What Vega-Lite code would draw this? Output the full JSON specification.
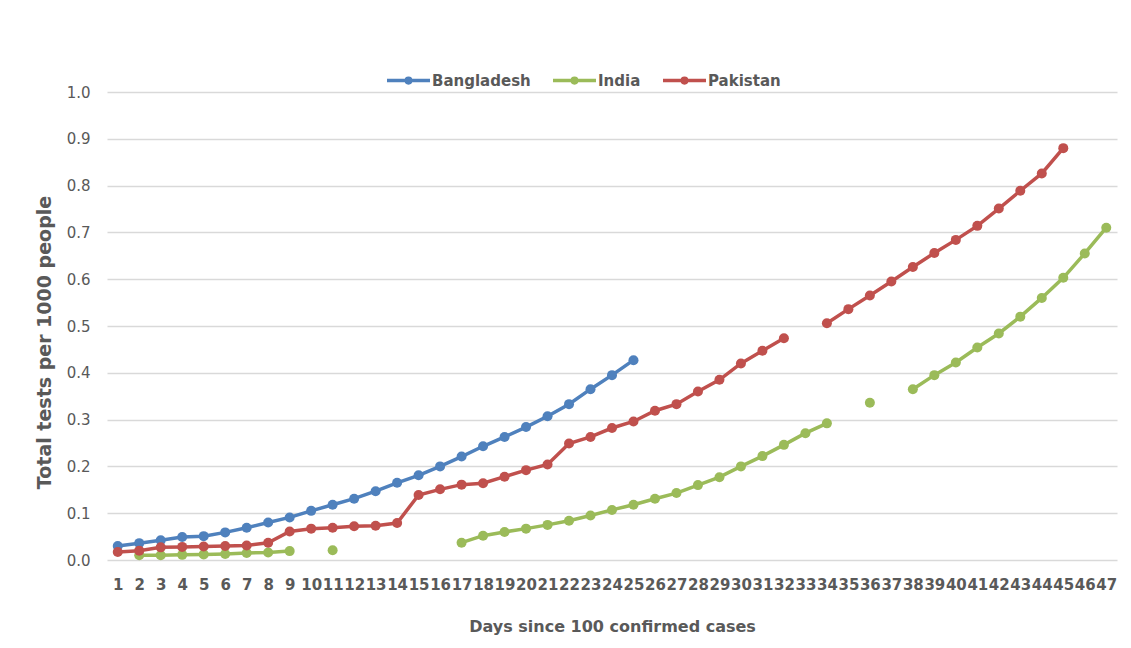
{
  "$schema": "https://vega.github.io/schema/vega-lite/v6.json",
  "width": 1010,
  "height": 468,
  "autosize": {"type": "none"},
  "padding": {"left": 107, "top": 92, "right": 14, "bottom": 88},
  "background": "white",
  "config": {
    "view": {"stroke": null},
    "font": "DejaVu Sans"
  },
  "data": {
    "values": [
      {"day": 1, "country": "Bangladesh", "seg": "B1", "v": 0.030},
      {"day": 2, "country": "Bangladesh", "seg": "B1", "v": 0.036},
      {"day": 3, "country": "Bangladesh", "seg": "B1", "v": 0.042},
      {"day": 4, "country": "Bangladesh", "seg": "B1", "v": 0.049},
      {"day": 5, "country": "Bangladesh", "seg": "B1", "v": 0.051},
      {"day": 6, "country": "Bangladesh", "seg": "B1", "v": 0.059},
      {"day": 7, "country": "Bangladesh", "seg": "B1", "v": 0.069},
      {"day": 8, "country": "Bangladesh", "seg": "B1", "v": 0.080},
      {"day": 9, "country": "Bangladesh", "seg": "B1", "v": 0.091},
      {"day": 10, "country": "Bangladesh", "seg": "B1", "v": 0.105},
      {"day": 11, "country": "Bangladesh", "seg": "B1", "v": 0.118},
      {"day": 12, "country": "Bangladesh", "seg": "B1", "v": 0.131},
      {"day": 13, "country": "Bangladesh", "seg": "B1", "v": 0.147},
      {"day": 14, "country": "Bangladesh", "seg": "B1", "v": 0.165},
      {"day": 15, "country": "Bangladesh", "seg": "B1", "v": 0.181},
      {"day": 16, "country": "Bangladesh", "seg": "B1", "v": 0.200},
      {"day": 17, "country": "Bangladesh", "seg": "B1", "v": 0.221},
      {"day": 18, "country": "Bangladesh", "seg": "B1", "v": 0.243},
      {"day": 19, "country": "Bangladesh", "seg": "B1", "v": 0.263},
      {"day": 20, "country": "Bangladesh", "seg": "B1", "v": 0.284},
      {"day": 21, "country": "Bangladesh", "seg": "B1", "v": 0.307},
      {"day": 22, "country": "Bangladesh", "seg": "B1", "v": 0.333},
      {"day": 23, "country": "Bangladesh", "seg": "B1", "v": 0.365},
      {"day": 24, "country": "Bangladesh", "seg": "B1", "v": 0.395},
      {"day": 25, "country": "Bangladesh", "seg": "B1", "v": 0.427},

      {"day": 2, "country": "India", "seg": "I1", "v": 0.010},
      {"day": 3, "country": "India", "seg": "I1", "v": 0.010},
      {"day": 4, "country": "India", "seg": "I1", "v": 0.011},
      {"day": 5, "country": "India", "seg": "I1", "v": 0.012},
      {"day": 6, "country": "India", "seg": "I1", "v": 0.013},
      {"day": 7, "country": "India", "seg": "I1", "v": 0.015},
      {"day": 8, "country": "India", "seg": "I1", "v": 0.016},
      {"day": 9, "country": "India", "seg": "I1", "v": 0.019},
      {"day": 11, "country": "India", "seg": "I2", "v": 0.021},
      {"day": 17, "country": "India", "seg": "I3", "v": 0.037},
      {"day": 18, "country": "India", "seg": "I3", "v": 0.052},
      {"day": 19, "country": "India", "seg": "I3", "v": 0.060},
      {"day": 20, "country": "India", "seg": "I3", "v": 0.067},
      {"day": 21, "country": "India", "seg": "I3", "v": 0.075},
      {"day": 22, "country": "India", "seg": "I3", "v": 0.084},
      {"day": 23, "country": "India", "seg": "I3", "v": 0.095},
      {"day": 24, "country": "India", "seg": "I3", "v": 0.107},
      {"day": 25, "country": "India", "seg": "I3", "v": 0.118},
      {"day": 26, "country": "India", "seg": "I3", "v": 0.131},
      {"day": 27, "country": "India", "seg": "I3", "v": 0.143},
      {"day": 28, "country": "India", "seg": "I3", "v": 0.160},
      {"day": 29, "country": "India", "seg": "I3", "v": 0.177},
      {"day": 30, "country": "India", "seg": "I3", "v": 0.200},
      {"day": 31, "country": "India", "seg": "I3", "v": 0.222},
      {"day": 32, "country": "India", "seg": "I3", "v": 0.246},
      {"day": 33, "country": "India", "seg": "I3", "v": 0.271},
      {"day": 34, "country": "India", "seg": "I3", "v": 0.292},
      {"day": 36, "country": "India", "seg": "I4", "v": 0.336},
      {"day": 38, "country": "India", "seg": "I5", "v": 0.365},
      {"day": 39, "country": "India", "seg": "I5", "v": 0.395},
      {"day": 40, "country": "India", "seg": "I5", "v": 0.422},
      {"day": 41, "country": "India", "seg": "I5", "v": 0.454},
      {"day": 42, "country": "India", "seg": "I5", "v": 0.484},
      {"day": 43, "country": "India", "seg": "I5", "v": 0.520},
      {"day": 44, "country": "India", "seg": "I5", "v": 0.560},
      {"day": 45, "country": "India", "seg": "I5", "v": 0.603},
      {"day": 46, "country": "India", "seg": "I5", "v": 0.655},
      {"day": 47, "country": "India", "seg": "I5", "v": 0.710},

      {"day": 1, "country": "Pakistan", "seg": "P1", "v": 0.017},
      {"day": 2, "country": "Pakistan", "seg": "P1", "v": 0.020},
      {"day": 3, "country": "Pakistan", "seg": "P1", "v": 0.027},
      {"day": 4, "country": "Pakistan", "seg": "P1", "v": 0.028},
      {"day": 5, "country": "Pakistan", "seg": "P1", "v": 0.029},
      {"day": 6, "country": "Pakistan", "seg": "P1", "v": 0.030},
      {"day": 7, "country": "Pakistan", "seg": "P1", "v": 0.031},
      {"day": 8, "country": "Pakistan", "seg": "P1", "v": 0.037},
      {"day": 9, "country": "Pakistan", "seg": "P1", "v": 0.061},
      {"day": 10, "country": "Pakistan", "seg": "P1", "v": 0.067},
      {"day": 11, "country": "Pakistan", "seg": "P1", "v": 0.069},
      {"day": 12, "country": "Pakistan", "seg": "P1", "v": 0.072},
      {"day": 13, "country": "Pakistan", "seg": "P1", "v": 0.073},
      {"day": 14, "country": "Pakistan", "seg": "P1", "v": 0.079},
      {"day": 15, "country": "Pakistan", "seg": "P1", "v": 0.139},
      {"day": 16, "country": "Pakistan", "seg": "P1", "v": 0.151},
      {"day": 17, "country": "Pakistan", "seg": "P1", "v": 0.161},
      {"day": 18, "country": "Pakistan", "seg": "P1", "v": 0.164},
      {"day": 19, "country": "Pakistan", "seg": "P1", "v": 0.178},
      {"day": 20, "country": "Pakistan", "seg": "P1", "v": 0.192},
      {"day": 21, "country": "Pakistan", "seg": "P1", "v": 0.204},
      {"day": 22, "country": "Pakistan", "seg": "P1", "v": 0.249},
      {"day": 23, "country": "Pakistan", "seg": "P1", "v": 0.263},
      {"day": 24, "country": "Pakistan", "seg": "P1", "v": 0.282},
      {"day": 25, "country": "Pakistan", "seg": "P1", "v": 0.296},
      {"day": 26, "country": "Pakistan", "seg": "P1", "v": 0.319},
      {"day": 27, "country": "Pakistan", "seg": "P1", "v": 0.333},
      {"day": 28, "country": "Pakistan", "seg": "P1", "v": 0.360},
      {"day": 29, "country": "Pakistan", "seg": "P1", "v": 0.385},
      {"day": 30, "country": "Pakistan", "seg": "P1", "v": 0.420},
      {"day": 31, "country": "Pakistan", "seg": "P1", "v": 0.447},
      {"day": 32, "country": "Pakistan", "seg": "P1", "v": 0.474},
      {"day": 34, "country": "Pakistan", "seg": "P2", "v": 0.506},
      {"day": 35, "country": "Pakistan", "seg": "P2", "v": 0.536},
      {"day": 36, "country": "Pakistan", "seg": "P2", "v": 0.565},
      {"day": 37, "country": "Pakistan", "seg": "P2", "v": 0.595},
      {"day": 38, "country": "Pakistan", "seg": "P2", "v": 0.626},
      {"day": 39, "country": "Pakistan", "seg": "P2", "v": 0.656},
      {"day": 40, "country": "Pakistan", "seg": "P2", "v": 0.684},
      {"day": 41, "country": "Pakistan", "seg": "P2", "v": 0.714},
      {"day": 42, "country": "Pakistan", "seg": "P2", "v": 0.751},
      {"day": 43, "country": "Pakistan", "seg": "P2", "v": 0.789},
      {"day": 44, "country": "Pakistan", "seg": "P2", "v": 0.826},
      {"day": 45, "country": "Pakistan", "seg": "P2", "v": 0.880}
    ]
  },
  "mark": {
    "type": "line",
    "strokeWidth": 3.5,
    "point": {"filled": true, "size": 100, "opacity": 1}
  },
  "encoding": {
    "x": {
      "field": "day",
      "type": "ordinal",
      "scale": {"type": "point", "padding": 0.5},
      "axis": {
        "title": "Days since 100 confirmed cases",
        "titleFont": "DejaVu Sans",
        "titleFontSize": 16,
        "titleFontWeight": "bold",
        "titleColor": "#595959",
        "titlePadding": 26,
        "labelFont": "DejaVu Sans",
        "labelFontSize": 15,
        "labelFontWeight": "bold",
        "labelColor": "#595959",
        "labelAngle": 0,
        "labelOverlap": false,
        "labelPadding": 17,
        "ticks": false,
        "domain": false,
        "grid": false
      }
    },
    "y": {
      "field": "v",
      "type": "quantitative",
      "scale": {"domain": [0, 1], "nice": false},
      "axis": {
        "title": "Total tests per 1000  people",
        "titleFont": "DejaVu Sans",
        "titleFontSize": 19,
        "titleFontWeight": "bold",
        "titleColor": "#595959",
        "titlePadding": 12,
        "titleY": 250,
        "values": [0, 0.1, 0.2, 0.3, 0.4, 0.5, 0.6, 0.7, 0.8, 0.9, 1.0],
        "format": ".1f",
        "labelFont": "DejaVu Sans",
        "labelFontSize": 15,
        "labelColor": "#595959",
        "labelPadding": 17,
        "ticks": false,
        "domain": false,
        "grid": true,
        "gridColor": "#D9D9D9",
        "gridWidth": 1.5
      }
    },
    "color": {
      "field": "country",
      "type": "nominal",
      "scale": {
        "domain": ["Bangladesh", "India", "Pakistan"],
        "range": ["#4F81BD", "#9BBB59", "#C0504D"]
      },
      "legend": {
        "title": null,
        "orient": "none",
        "direction": "horizontal",
        "legendX": 278,
        "legendY": -35,
        "labelFont": "DejaVu Sans",
        "labelFontSize": 15,
        "labelFontWeight": "bold",
        "labelColor": "#595959",
        "labelOffset": 0,
        "columnPadding": 15,
        "symbolType": "M-1,0L1,0M0.105,0A0.105,0.105,0,1,1,-0.105,0A0.105,0.105,0,1,1,0.105,0",
        "symbolSize": 1849,
        "symbolStrokeWidth": 3.5,
        "encode": {
          "symbols": {
            "update": {"fill": {"scale": "color", "field": "value"}}
          }
        }
      }
    },
    "detail": {"field": "seg", "type": "nominal"}
  }
}
